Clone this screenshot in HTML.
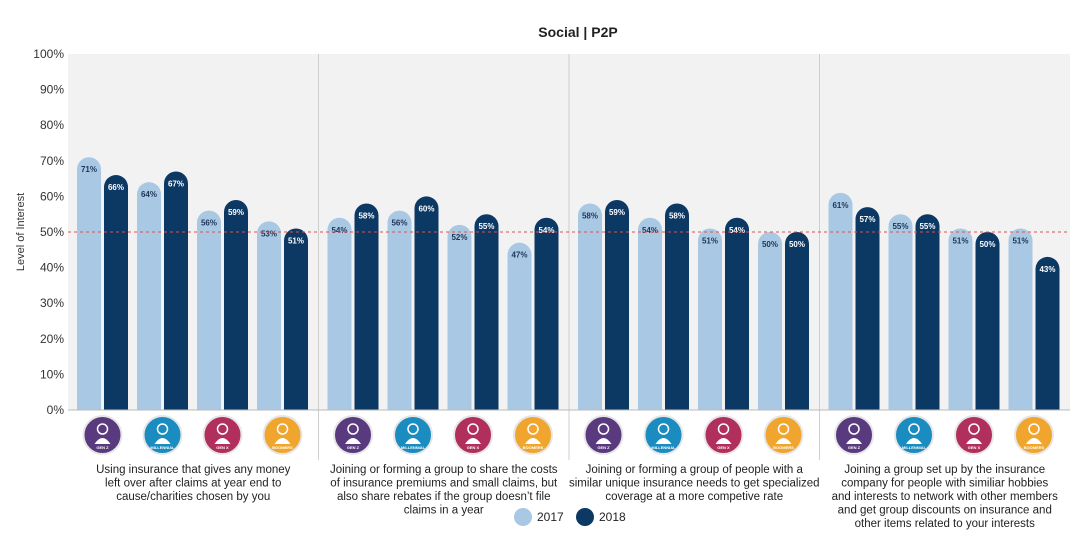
<!DOCTYPE html>
<html><head><meta charset="utf-8"><style>
body{margin:0;background:#fff;font-family:"Liberation Sans",sans-serif;}
svg{display:block}
</style></head><body>
<svg id="c" width="1080" height="542" xmlns="http://www.w3.org/2000/svg">
<text x="578" y="37" text-anchor="middle" font-size="14" font-weight="bold" fill="#222">Social | P2P</text>
<text transform="translate(24,232) rotate(-90)" text-anchor="middle" font-size="11" fill="#333">Level of Interest</text>
<g id="g"></g>
</svg>
<script>
const categories=["Using insurance that gives any money|left over after claims at year end to|cause/charities chosen by you","Joining or forming a group to share the costs|of insurance premiums and small claims, but|also share rebates if the group doesn’t file|claims in a year","Joining or forming  a group of people with a|similar unique insurance needs to get specialized|coverage at a more competive rate","Joining a group set up by the insurance|company for people with similiar hobbies|and interests to network with other members|and get group discounts on insurance and|other items related to your interests"];
const generations=["GEN Z","MILLENNIAL","GEN X","BOOMERS"];
const series2017=[71,64,56,53,54,56,52,47,58,54,51,50,61,55,51,51];
const series2018=[66,67,59,51,58,60,55,54,59,58,54,50,57,55,50,43];
const yTicks=[0,10,20,30,40,50,60,70,80,90,100];
const refLine=50;
const NS="http://www.w3.org/2000/svg";
const g=document.getElementById('g');
const y0=410,y1=54,x0=68,x1=1070;
const y=v=>y0-(v/100)*(y0-y1);
const panelW=(x1-x0)/categories.length;
function mk(t,a,p){const e=document.createElementNS(NS,t);for(const k in a)e.setAttribute(k,a[k]);(p||g).appendChild(e);return e;}
const bg=mk('rect',{x:x0,y:y1,width:x1-x0,height:y0-y1,fill:'#f2f2f2'});


yTicks.forEach(t=>{
 const tx=mk('text',{x:64,y:y(t)+4,'text-anchor':'end','font-size':12,fill:'#333'});tx.textContent=t+'%';
 
 
});
for(let i=1;i<categories.length;i++){
 const l=mk('line',{x1:x0+i*panelW,x2:x0+i*panelW,y1:y1,y2:y0+50,stroke:'#cfcfcf'});
 
 
}
const icol=['#5a3a7e','#1b8cbf','#b02f5c','#f0a62e'];
const bw=24,r=12;
function bar(x,v,fill,tc,name){
 const top=y(v),h=y0-top;
 const p=mk('path',{d:`M${x},${y0}V${top+r}A${r},${r} 0 0 1 ${x+bw},${top+r}V${y0}Z`,fill:fill});
 
 
 const t=mk('text',{x:x+bw/2,y:top+15,'text-anchor':'middle','font-size':8,'font-weight':'bold',fill:tc});t.textContent=v+'%';
 
 
}
categories.forEach((c,ci)=>{
 const px=x0+ci*panelW;
 generations.forEach((gn,gi)=>{
  const idx=ci*4+gi,bx=px+9+gi*60;
  bar(bx,series2017[idx],'#a9c8e4','#1d3557','bar-2017');
  bar(bx+27,series2018[idx],'#0c3864','#ffffff','bar-2018');
  const cx=bx+25.5;
  const ic=mk('circle',{cx:cx,cy:435,r:19,fill:icol[gi],stroke:'#e6e6e6','stroke-width':2});
  
  
  mk('circle',{cx:cx,cy:429,r:5,fill:'none',stroke:'#fff','stroke-width':1.5});
  mk('path',{d:`M${cx-8},${444}Q${cx},${432} ${cx+8},${444}Z`,fill:'#fff'});
  const it=mk('text',{x:cx,y:449,'text-anchor':'middle','font-size':4,'font-weight':'bold',fill:'#fff'});it.textContent=gn;
  
  
 });
 c.split('|').forEach((ln,li)=>{
  const t=mk('text',{x:px+panelW/2,y:473+li*13.5,'text-anchor':'middle','font-size':11.5,fill:'#222'});t.textContent=ln;
  
  
 });
});
const rl=mk('line',{x1:x0,x2:x1,y1:y(refLine),y2:y(refLine),stroke:'#d9534f','stroke-dasharray':'3,3','stroke-width':1});


const ax=mk('line',{x1:x0,x2:x1,y1:y0,y2:y0,stroke:'#bbb'});


[['2017','#a9c8e4',523],['2018','#0c3864',585]].forEach(([n,col,lx])=>{
 const c=mk('circle',{cx:lx,cy:517,r:9,fill:col});
 
 
 const t=mk('text',{x:lx+14,y:521,'font-size':12,fill:'#222'});t.textContent=n;
 
 
});
</script>
</body></html>
